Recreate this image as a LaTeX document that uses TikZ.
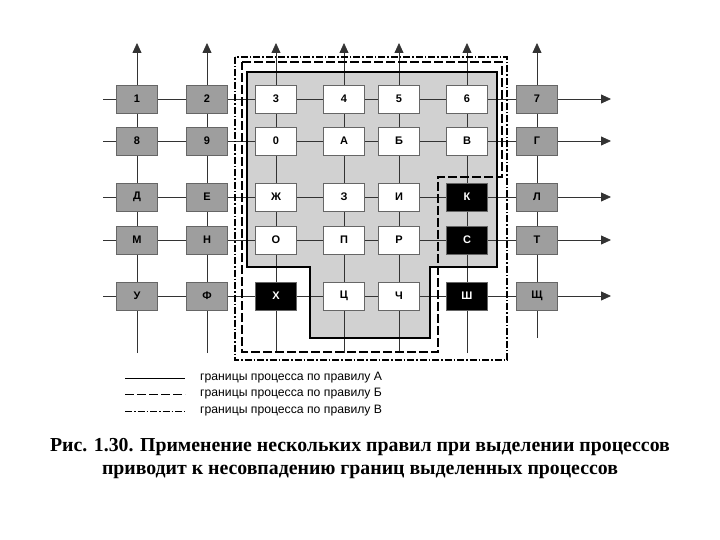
\documentclass[tikz,border=0pt]{standalone}
\usepackage{fontspec}
\setmainfont{Liberation Serif}
\newfontfamily\lsans{Liberation Sans}
\usetikzlibrary{arrows.meta}
\begin{document}
\begin{tikzpicture}[x=1pt,y=-1pt,
  box/.style={draw=black!60,line width=0.8pt,minimum width=41pt,minimum height=28pt,inner sep=0pt,font=\lsans\bfseries\fontsize{11}{11}\selectfont},
  gbox/.style={box,fill=black!38},
  wbox/.style={box,fill=white},
  bbox/.style={box,fill=black,text=white},
  grid/.style={draw=black!80,line width=0.8pt},
  arr/.style={grid,-{Triangle[length=10pt,width=9pt]}},
  bA/.style={line width=2.2pt,black},
  bB/.style={line width=1.2pt,dash pattern=on 9pt off 3pt},
  bV/.style={line width=1.2pt,dash pattern=on 7pt off 2pt on 1.5pt off 2pt},
  leg/.style={font=\lsans\fontsize{12.2}{12}\selectfont,anchor=west,inner sep=0pt}]
\useasboundingbox (0,0) rectangle (720,540);
% shading of process A
\fill[black!18] (247,72) -- (497,72) -- (497,267) -- (430,267) -- (430,338) -- (310,338) -- (310,267) -- (247,267) -- cycle;
% grid coordinates
\foreach \n/\x/\b in {1/137/353,2/207/353,3/276/353,4/344/353,5/399/353,6/467/353,7/537/338}{
  \coordinate (cb\n) at (\x,\b); \coordinate (ct\n) at (\x,43);
  \draw[arr] (cb\n) -- (ct\n);}
\foreach \n/\y in {1/99,2/141,3/197,4/240,5/296}{
  \coordinate (rl\n) at (103,\y); \coordinate (rr\n) at (611,\y);
  \draw[arr] (rl\n) -- (rr\n);}
% boundaries
\draw[bV] (235,57) rectangle (507,360);
\draw[bB] (242,62) -- (502,62) -- (502,177) -- (438,177) -- (438,352) -- (242,352) -- cycle;
\draw[bA] (247,72) -- (497,72) -- (497,267) -- (430,267) -- (430,338) -- (310,338) -- (310,267) -- (247,267) -- cycle;
% nodes
\node[gbox] (n1) at (137,99) {1};
\node[gbox] (n2) at (207,99) {2};
\node[wbox] (n3) at (276,99) {3};
\node[wbox] (n4) at (344,99) {4};
\node[wbox] (n5) at (399,99) {5};
\node[wbox] (n6) at (467,99) {6};
\node[gbox] (n7) at (537,99) {7};
\node[gbox] (n8) at (137,141) {8};
\node[gbox] (n9) at (207,141) {9};
\node[wbox] (n0) at (276,141) {0};
\node[wbox] (nA) at (344,141) {А};
\node[wbox] (nB) at (399,141) {Б};
\node[wbox] (nV) at (467,141) {В};
\node[gbox] (nG) at (537,141) {Г};
\node[gbox] (nD) at (137,197) {Д};
\node[gbox] (nE) at (207,197) {Е};
\node[wbox] (nZh) at (276,197) {Ж};
\node[wbox] (nZ) at (344,197) {З};
\node[wbox] (nI) at (399,197) {И};
\node[bbox] (nK) at (467,197) {К};
\node[gbox] (nL) at (537,197) {Л};
\node[gbox] (nM) at (137,240) {М};
\node[gbox] (nN) at (207,240) {Н};
\node[wbox] (nO) at (276,240) {О};
\node[wbox] (nP) at (344,240) {П};
\node[wbox] (nR) at (399,240) {Р};
\node[bbox] (nS) at (467,240) {С};
\node[gbox] (nT) at (537,240) {Т};
\node[gbox] (nU) at (137,296) {У};
\node[gbox] (nF) at (207,296) {Ф};
\node[bbox] (nH) at (276,296) {Х};
\node[wbox] (nC) at (344,296) {Ц};
\node[wbox] (nCh) at (399,296) {Ч};
\node[bbox] (nSh) at (467,296) {Ш};
\node[gbox] (nSch) at (537,296) {Щ};
% legend
\coordinate (la1) at (125,378); \coordinate (la2) at (185,378);
\coordinate (lb1) at (125,394); \coordinate (lb2) at (185,394);
\coordinate (lc1) at (125,411); \coordinate (lc2) at (185,411);
\draw[line width=0.8pt] (la1) -- (la2);
\draw[line width=0.8pt,dash pattern=on 9pt off 3pt] (lb1) -- (lb2);
\draw[line width=0.8pt,dash pattern=on 7pt off 2pt on 1.5pt off 2pt] (lc1) -- (lc2);
\node[leg] (ta) at (200,378) {границы процесса по правилу А};
\node[leg] (tb) at (200,394) {границы процесса по правилу Б};
\node[leg] (tc) at (200,411) {границы процесса по правилу В};
% caption
\node[font=\bfseries\fontsize{19.8}{23}\selectfont,align=center] (cap) at (360,459)
 {Рис. 1.30. Применение нескольких правил при выделении процессов\\приводит к несовпадению границ выделенных процессов};
\end{tikzpicture}
\end{document}
